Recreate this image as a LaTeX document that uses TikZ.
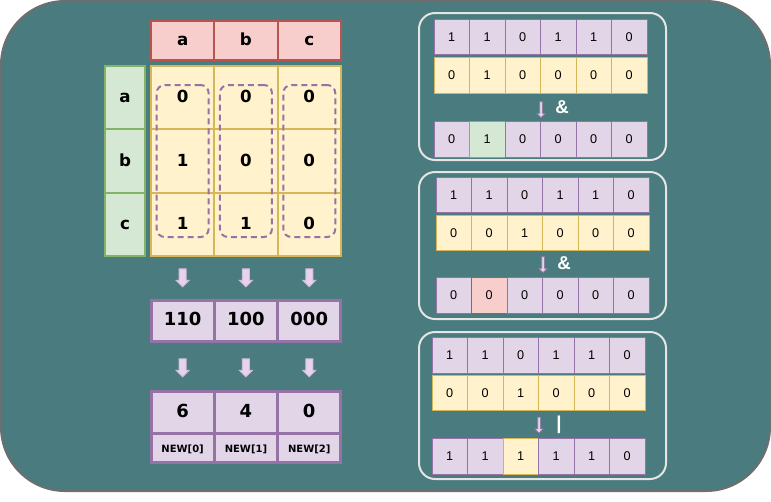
\documentclass[tikz,border=0pt]{standalone}
\usepackage{fontspec}
\setmainfont{DejaVu Sans}
\newfontfamily\helv{Liberation Sans}
\usetikzlibrary{shapes.arrows}
\definecolor{bgteal}{HTML}{4A7B7E}
\definecolor{bgline}{HTML}{6E6E6E}
\definecolor{purpfill}{HTML}{E1D5E7}
\definecolor{purpline}{HTML}{9673A6}
\definecolor{yelfill}{HTML}{FFF2CC}
\definecolor{yelline}{HTML}{D6B656}
\definecolor{grnfill}{HTML}{D5E8D4}
\definecolor{grnline}{HTML}{82B366}
\definecolor{redfill}{HTML}{F8CECC}
\definecolor{redline}{HTML}{B85450}
\definecolor{arrowfill}{HTML}{E8D3EC}
\definecolor{arrowline}{HTML}{D2BCDC}
\newcommand{\px}{0.75pt}
% one row of six bits, #6 = index of the marked cell
\newcommand{\bitrow}[7]{%
  \foreach \v [count=\i] in {#4}{%
    \ifnum\i=#6 \def\fc{#7fill}\def\dc{#7line}\else\def\fc{#5fill}\def\dc{#5line}\fi
    \node[bit, fill=\fc, draw=\dc] (#1\i) at ({#2+17.75+35.5*(\i-1)},#3) {\v};
  }}
\tikzset{
  cellbase/.style={line width=1.5pt, inner sep=0pt, text height=0.76em, text depth=0pt, font=\bfseries\fontsize{12.5}{14}\selectfont},
  hdr/.style={cellbase, draw=redline, fill=redfill, minimum width=63.3*\px, minimum height=39*\px},
  rowlab/.style={cellbase, draw=grnline, fill=grnfill, minimum width=40*\px, minimum height=63.3*\px},
  mcell/.style={cellbase, draw=yelline, fill=yelfill, minimum width=63.3*\px, minimum height=63.3*\px},
  dashbox/.style={draw=purpline, line width=1.5pt, dash pattern=on 4.5pt off 3pt, rounded corners=6pt, minimum width=52*\px, minimum height=152*\px},
  binbox/.style={cellbase, draw=purpline, fill=purpfill, line width=2.25pt, minimum width=63.3*\px, font=\bfseries\fontsize{13.5}{15}\selectfont},
  namebox/.style={binbox, font=\bfseries\fontsize{7.5}{9}\selectfont},
  fatarrow/.style={single arrow, rotate=-90, draw=arrowline, fill=arrowfill, line width=0.75pt, inner xsep=0pt, inner ysep=3*\px, minimum height=18*\px, single arrow head extend=3*\px},
  thinarrow/.style={single arrow, rotate=-90, draw=purpline, fill=purpfill, line width=0.5pt, inner xsep=0pt, inner ysep=1*\px, minimum height=16*\px, single arrow head extend=3*\px},
  panel/.style={draw=white!90!black, line width=1.5pt, rounded corners=12pt, minimum width=247*\px, minimum height=147*\px},
  bit/.style={line width=0.75pt, inner sep=0pt, minimum width=35.5*\px, minimum height=35.5*\px, font=\helv\fontsize{9.5}{11}\selectfont},
  op/.style={text=white, inner sep=0pt, font=\helv\bfseries\fontsize{14}{16}\selectfont}
}
\begin{document}
\begin{tikzpicture}[x=\px, y=-\px]
\useasboundingbox (0,0) rectangle (771,501);
\draw[fill=bgteal, draw=bgline, line width=1.5pt, rounded corners=48pt] (1,1) rectangle (770,491);

% adjacency matrix
\foreach \l [count=\i] in {a,b,c}{
  \node[hdr] (h\l) at ({119.35+63.3*\i},40.5) {\l};
  \node[rowlab] (r\l) at (125,{34.35+63.3*\i}) {\l};
}
\foreach \row [count=\j] in {{0,0,0},{1,0,0},{1,1,0}}
  \foreach \v [count=\i] in \row
    \node[mcell] (m\j\i) at ({119.35+63.3*\i},{34.35+63.3*\j}) {\v};
\foreach \i in {1,2,3}
  \node[dashbox] (col\i) at ({119.35+63.3*\i},161) {};

% columns as numbers
\foreach \b/\n [count=\i] in {110/6,100/4,000/0}{
  \node[fatarrow] (up\i) at ({119.35+63.3*\i},276) {};
  \node[binbox, minimum height=41*\px] (bin\i) at ({119.35+63.3*\i},320.5) {\b};
  \node[fatarrow] (dn\i) at ({119.35+63.3*\i},366) {};
  \node[binbox, minimum height=42*\px] (val\i) at ({119.35+63.3*\i},412) {\n};
  \node[namebox, minimum height=29*\px] (new\i) at ({119.35+63.3*\i},447.5) {NEW[\the\numexpr\i-1\relax]};
}

% bit operations
\node[panel] (pa) at (542.5,86.5) {};
\node[panel] (pb) at (542.5,245.5) {};
\node[panel] (pc) at (542.5,405.5) {};

\bitrow{a1c}{434}{37}{1,1,0,1,1,0}{purp}{0}{purp}
\bitrow{a2c}{434}{75.5}{0,1,0,0,0,0}{yel}{0}{yel}
\node[thinarrow] (aarr) at (541,109) {};
\node[op] (aop) at (562,107) {\&};
\bitrow{a3c}{434}{139.5}{0,1,0,0,0,0}{purp}{2}{grn}

\bitrow{b1c}{436}{195}{1,1,0,1,1,0}{purp}{0}{purp}
\bitrow{b2c}{436}{233}{0,0,1,0,0,0}{yel}{0}{yel}
\node[thinarrow] (barr) at (543,264) {};
\node[op] (bop) at (564,263) {\&};
\bitrow{b3c}{436}{295.5}{0,0,0,0,0,0}{purp}{2}{red}

\bitrow{c1c}{432}{355.5}{1,1,0,1,1,0}{purp}{0}{purp}
\bitrow{c2c}{432}{393}{0,0,1,0,0,0}{yel}{0}{yel}
\node[thinarrow] (carr) at (539,424.5) {};
\node[op] (cop) at (559,425) {|};
\bitrow{c3c}{432}{456.5}{1,1,1,1,1,0}{purp}{3}{yel}
\end{tikzpicture}
\end{document}
